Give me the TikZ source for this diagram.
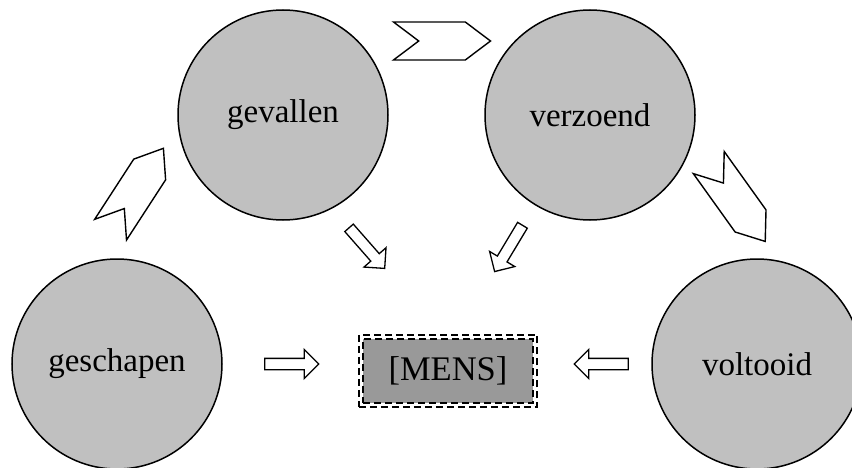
\documentclass[tikz,border=0pt]{standalone}
\usepackage{fontspec}
\setmainfont{Liberation Serif}
\usetikzlibrary{shapes.symbols, shapes.arrows, fit}
\definecolor{stagegray}{HTML}{C0C0C0}
\definecolor{mensgray}{HTML}{999999}

\begin{document}
\begin{tikzpicture}[x=1pt, y=-1pt,
    stage/.style={circle, draw, line width=1.5pt, fill=stagegray, minimum size=210pt,
                  inner sep=0pt, font=\fontsize{33}{40}\selectfont},
    chev/.style={signal, signal from=west, signal to=east, signal pointer angle=74,
                 draw, line width=1.4pt, minimum width=97pt, minimum height=38pt, inner sep=0pt},
    harr/.style={single arrow, draw, line width=1.3pt, minimum height=54pt,
                 inner sep=5pt, single arrow head extend=9pt},
    dashbox/.style={draw, line width=2.3pt, dash pattern=on 7pt off 4pt},
  ]
    \useasboundingbox (0,0) rectangle (852,468);
    \clip (0,0) rectangle (852,468);

    % the four stages
    \node[stage] (gevallen) at (283,115) {gevallen};
    \node[stage] (verzoend) at (590,115) {verzoend};
    \node[stage] (geschapen) at (117,364) {geschapen};
    \node[stage] (voltooid) at (757,364) {voltooid};

    % centre
    \node[dashbox, fill=mensgray, minimum width=170pt, minimum height=64pt,
          font=\fontsize{34.5}{40}\selectfont] (mens) at (448,371) {[MENS]};
    \node[dashbox, fit=(mens), inner sep=3pt] (mensframe) {};

    % big chevrons between stages
    \node[chev, rotate=57] (c1) at (137,189) {};
    \node[chev] (c2) at (442,41) {};
    \node[chev, rotate=-54.4] (c3) at (737,202) {};

    % small arrows into the centre
    \node[harr] (a1) at (289,364) {};
    \node[harr, rotate=-48.7] (a2) at (365,246) {};
    \node[harr, rotate=-121] (a3) at (510,246) {};
    \node[harr, rotate=180] (a4) at (604,364) {};
  \end{tikzpicture}
\end{document}
